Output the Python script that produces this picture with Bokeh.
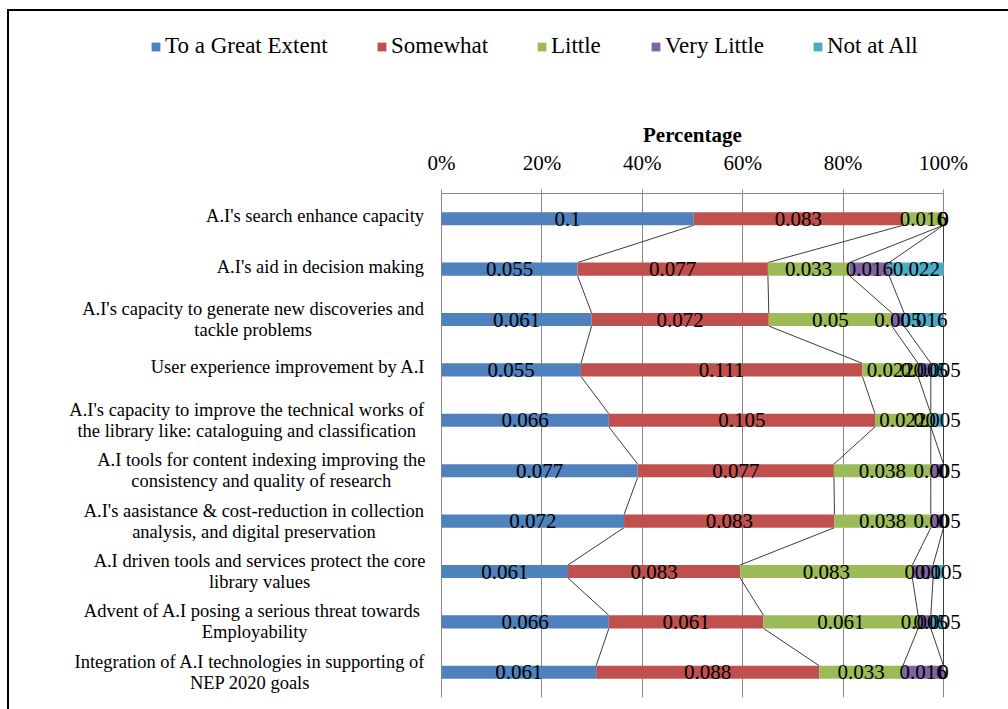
import numpy as np
from bokeh.plotting import figure
from bokeh.layouts import column
from bokeh.models import (ColumnDataSource, LabelSet, Legend, LegendItem, Range1d,
                          FixedTicker, NumeralTickFormatter)
from bokeh.embed import file_html
from bokeh.resources import INLINE

# ---------------- data ----------------
categories = [
    "A.I's search enhance capacity",
    "A.I's aid in decision making",
    "A.I's capacity to generate new discoveries and\ntackle problems",
    "User experience improvement by A.I",
    "A.I's capacity to improve the technical works of\nthe library like: cataloguing and classification",
    "A.I tools for content indexing improving the\nconsistency and quality of research",
    "A.I's aasistance & cost-reduction in collection\nanalysis, and digital preservation",
    "A.I driven tools and services protect the core\nlibrary values",
    "Advent of A.I  posing a serious threat towards\nEmployability",
    "Integration of A.I technologies in supporting of\nNEP 2020 goals",
]
series_names = ["To a Great Extent", "Somewhat", "Little", "Very Little", "Not at All"]
great_extent = [0.1, 0.055, 0.061, 0.055, 0.066, 0.077, 0.072, 0.061, 0.066, 0.061]
somewhat = [0.083, 0.077, 0.072, 0.111, 0.105, 0.077, 0.083, 0.083, 0.061, 0.088]
little = [0.016, 0.033, 0.05, 0.022, 0.022, 0.038, 0.038, 0.083, 0.061, 0.033]
very_little = [0, 0.016, 0.005, 0.005, 0, 0.005, 0.005, 0.01, 0.005, 0.016]
not_at_all = [0, 0.022, 0.016, 0.005, 0.005, 0, 0, 0.005, 0.005, 0]
tick_values = [0, 0.2, 0.4, 0.6, 0.8, 1.0]
axis_title = "Percentage"

# ---------------- style / layout ----------------
colors = ["#4F81BD", "#C0504D", "#9BBB59", "#8064A2", "#4BACC6"]
FONT = "Liberation Serif"
PAGE_X0, PAGE_Y0 = 9, 11            # where the figures start on the page (after border)
W = 1008 - PAGE_X0
H_LEG = 100
H_MAIN = 709 - PAGE_Y0 - H_LEG
PLOT_L, PLOT_R = 441, 943           # page px of 0% and 100%
PLOT_T, PLOT_B = 193, 697           # page px of plot area top / bottom
PLOT_W = PLOT_R - PLOT_L
MT = PLOT_T - (PAGE_Y0 + H_LEG)
MB = (PAGE_Y0 + H_LEG + H_MAIN) - PLOT_B
BAR_H = 0.26
CAT_FONT_PX = 18.5
CAT_RIGHT_PX = -16          # right edge of category labels relative to 0%
CAT_LINE_OFF = 0.21         # half line spacing (band units)
legend_sq_x = [150, 376, 536, 650, 812]   # page px of legend squares
LEGEND_BOTTOM_PAGE = 59
TITLE_PX = 21

# Times/Liberation Serif advance widths (per 1000 em)
TW = {' ': 250, "'": 333, '&': 778, ',': 250, '-': 333, '.': 250, ':': 278, '%': 833}
TW.update({d: 500 for d in '0123456789'})
TW.update(dict(zip('ABCDEFGHIJKLMNOPQRSTUVWXYZ',
                   [722, 667, 667, 722, 611, 556, 722, 722, 333, 389, 722, 611, 889,
                    722, 722, 556, 722, 667, 556, 611, 722, 722, 944, 722, 722, 611])))
TW.update(dict(zip('abcdefghijklmnopqrstuvwxyz',
                   [444, 500, 444, 500, 444, 333, 500, 500, 278, 278, 500, 278, 778,
                    500, 500, 500, 500, 333, 389, 278, 500, 500, 722, 500, 500, 444])))


def text_w(s, size):
    return sum(TW.get(c, 500) for c in s) / 1000.0 * size


n = len(categories)
vals = np.array([great_extent, somewhat, little, very_little, not_at_all], dtype=float)
frac = vals / vals.sum(axis=0)
right = np.cumsum(frac, axis=0)
left = right - frac
ypos = np.arange(n, dtype=float)

# ---------------- legend strip ----------------
pl = figure(width=W, height=H_LEG, x_range=Range1d(0, W), y_range=Range1d(0, H_LEG),
            x_axis_location=None, y_axis_location=None,
            output_backend="svg", toolbar_location=None,
            min_border_left=0, min_border_right=0, min_border_top=0, min_border_bottom=0)
pl.outline_line_color = None
pl.xgrid.visible = False
pl.ygrid.visible = False
for k, name in enumerate(series_names):
    # swatch renderer: same glyph style as the bars, data kept outside the visible range
    r = pl.hbar(y=[-50], left=[-50], right=[-40], height=1, fill_color=colors[k], line_color=None)
    lg = Legend(items=[LegendItem(label=name, renderers=[r])],
                location=(legend_sq_x[k] - PAGE_X0, H_LEG - (LEGEND_BOTTOM_PAGE - PAGE_Y0)),
                orientation="horizontal", padding=0, margin=0, spacing=0,
                glyph_width=11, glyph_height=11, label_standoff=4, label_height=22,
                label_text_font=FONT, label_text_font_size="23px", label_text_color="black",
                border_line_color=None, background_fill_alpha=0)
    pl.add_layout(lg)

# ---------------- main chart ----------------
x0 = (PAGE_X0 - PLOT_L) / PLOT_W
x1 = (1008 - PLOT_L) / PLOT_W
p = figure(width=W, height=H_MAIN, x_range=Range1d(x0, x1), y_range=Range1d(n - 0.5, -0.5),
           x_axis_location="above", y_axis_location=None,
           output_backend="svg", toolbar_location=None,
           min_border_left=0, min_border_right=0, min_border_top=MT, min_border_bottom=MB)
p.outline_line_color = None

# axis title (centred over the 0-100% span)
title_w = 99  # approx rendered width of the bold title at TITLE_PX
p.title.text = axis_title
p.title.align = "left"
p.title.offset = (PLOT_L + PLOT_R) / 2 - title_w / 2 - PAGE_X0
p.title.text_font = FONT
p.title.text_font_size = f"{TITLE_PX}px"
p.title.text_font_style = "bold"
p.title.text_color = "black"
p.title.standoff = 2

ticker = FixedTicker(ticks=tick_values)
ax = p.xaxis[0]
ax.ticker = ticker
ax.bounds = (tick_values[0], tick_values[-1])
ax.formatter = NumeralTickFormatter(format="0%")
ax.major_label_text_font = FONT
ax.major_label_text_font_size = "21px"
ax.major_label_text_color = "black"
ax.major_label_standoff = 15
ax.axis_line_color = "#888888"
ax.major_tick_line_color = "#888888"
ax.major_tick_out = 4
ax.major_tick_in = 0
ax.minor_tick_line_color = None
p.xgrid.ticker = ticker
p.xgrid.grid_line_color = "#888888"
p.ygrid.visible = False

# series lines
for k in range(vals.shape[0]):
    xs = [[right[k, i], right[k, i + 1]] for i in range(n - 1)]
    ys = [[ypos[i] + BAR_H / 2, ypos[i + 1] - BAR_H / 2] for i in range(n - 1)]
    p.multi_line(xs, ys, line_color="#3c3c3c", line_width=1)

# bars
for k in range(vals.shape[0]):
    src = ColumnDataSource(dict(y=ypos, left=left[k], right=right[k]))
    p.hbar(y="y", left="left", right="right", height=BAR_H, source=src,
           fill_color=colors[k], line_color=None)

# data labels
lx, ly, lt = [], [], []
for k in range(vals.shape[0]):
    for i in range(n):
        lx.append((left[k, i] + right[k, i]) / 2)
        ly.append(ypos[i])
        lt.append(f"{vals[k, i]:g}")
p.add_layout(LabelSet(x="x", y="y", text="t", source=ColumnDataSource(dict(x=lx, y=ly, t=lt)),
                      text_font=FONT, text_font_size="21px", text_color="black",
                      text_align="center", text_baseline="middle"))

# category labels
cx, cy, ct = [], [], []
for i, cat in enumerate(categories):
    lines = cat.split("\n")
    wmax = max(text_w(s, CAT_FONT_PX) for s in lines)
    center_px = CAT_RIGHT_PX - wmax / 2
    for j, s in enumerate(lines):
        cx.append(center_px / PLOT_W)
        off = -0.05 if len(lines) == 1 else (-CAT_LINE_OFF if j == 0 else CAT_LINE_OFF)
        cy.append(ypos[i] + off)
        ct.append(s)
p.add_layout(LabelSet(x="x", y="y", text="t", source=ColumnDataSource(dict(x=cx, y=cy, t=ct)),
                      text_font=FONT, text_font_size=f"{CAT_FONT_PX}px", text_color="black",
                      text_align="center", text_baseline="middle"))

layout = column(pl, p, spacing=0,
                styles={"margin-left": "7px", "margin-top": "9px",
                        "border-left": "2px solid black", "border-top": "2px solid black"})

open("out.html", "w").write(file_html(layout, INLINE))
